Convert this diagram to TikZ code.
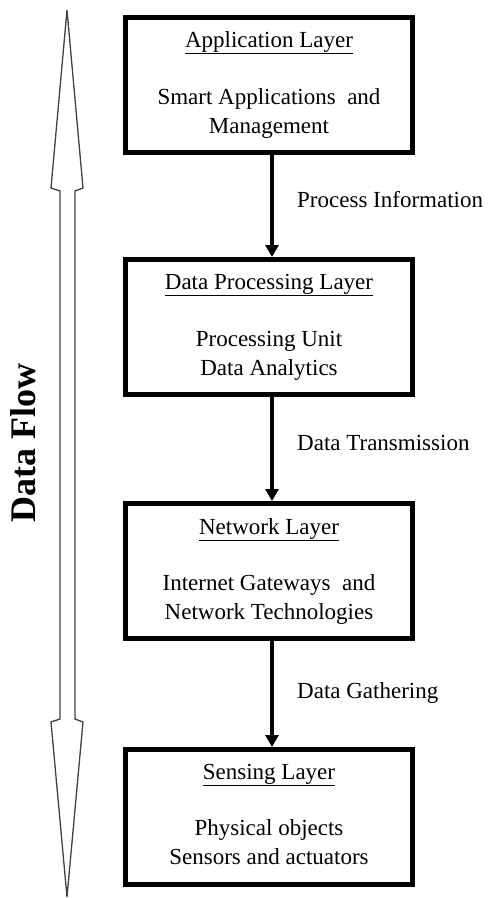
\documentclass[tikz,border=0pt]{standalone}
\usepackage{fontspec}
\setmainfont{Liberation Serif}
\usetikzlibrary{arrows.meta}

\begin{document}
\begin{tikzpicture}[x = 1pt, y = -1pt,
		layer/.style = {draw, line width = 5pt, minimum width = 287pt, minimum height = 135pt, inner sep = 0pt},
		txt/.style = {font = \fontsize{23}{29}\selectfont, inner sep = 0pt, anchor = base, align = center},
		flow/.style = {line width = 4pt, -{Triangle[width = 13pt, length = 12pt]}},
		lbl/.style = {font = \fontsize{23}{29}\selectfont, inner sep = 0pt, anchor = base west}]
		\useasboundingbox (0,0) rectangle (488,898);
		% big hollow double arrow
		\draw[line width = 1.3pt, black!75] (67,10) -- (83,188) -- (75,191) -- (75,719) -- (83,722) -- (67,897) -- (51,722) -- (60,719) -- (60,191) -- (51,188) -- cycle;
		\node[rotate = 90, anchor = base, inner sep = 0pt, font = \fontsize{36}{40}\selectfont\bfseries] (flow) at (35,443) {Data Flow};
		% layers
		\node[layer] (app) at (269,85) {};
		\node[txt] (app-t) at (269,47) {\underline{Application Layer}};
		\node[txt] (app-b) at (269,133) {Smart Applications~ and\\Management};
		\node[layer] (proc) at (269,327) {};
		\node[txt] (proc-t) at (269,289) {\underline{Data Processing Layer}};
		\node[txt] (proc-b) at (269,375) {Processing Unit\\Data Analytics};
		\node[layer] (net) at (269,571) {};
		\node[txt] (net-t) at (269,534) {\underline{Network Layer}};
		\node[txt] (net-b) at (269,619) {Internet Gateways~ and\\Network Technologies};
		\node[layer] (sens) at (269,817) {};
		\node[txt] (sens-t) at (269,779) {\underline{Sensing Layer}};
		\node[txt] (sens-b) at (269,864) {Physical objects\\Sensors and actuators};
		% arrows between layers
		\draw[flow] ([xshift = 3pt]app.south) -- ([xshift = 3pt]proc.north);
		\draw[flow] ([xshift = 3pt]proc.south) -- ([xshift = 3pt]net.north);
		\draw[flow] ([xshift = 3pt]net.south) -- ([xshift = 3pt]sens.north);
		\node[lbl] (info) at (297,207) {Process Information};
		\node[lbl] (trans) at (297,450) {Data Transmission};
		\node[lbl] (gath) at (297,698) {Data Gathering};
	\end{tikzpicture}
\end{document}
